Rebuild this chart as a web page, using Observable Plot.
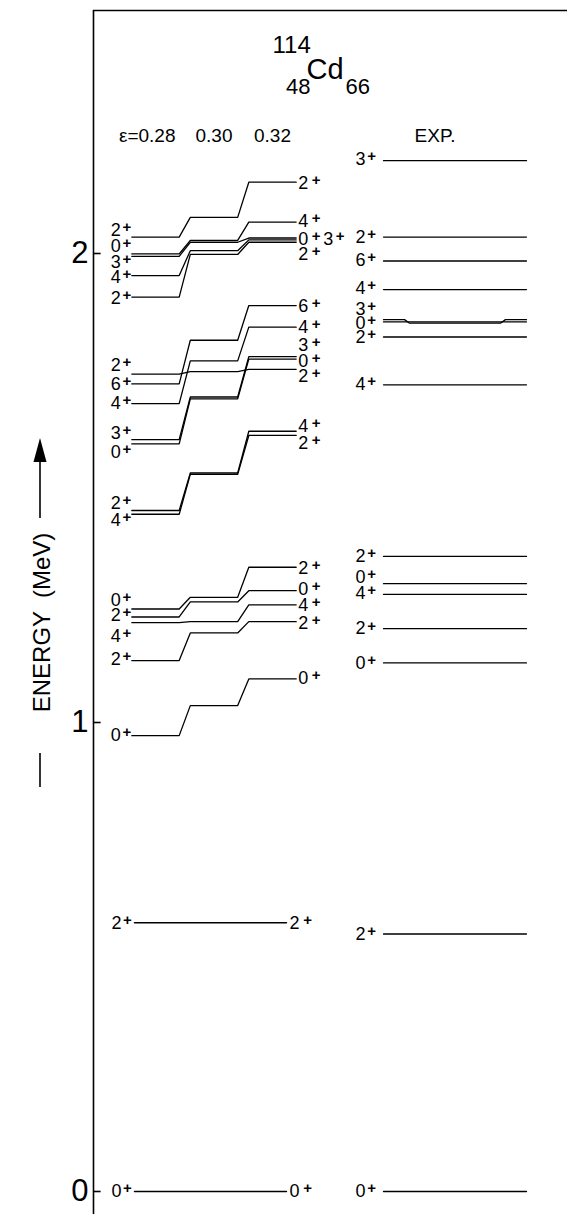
<!DOCTYPE html>
<html><head><meta charset="utf-8">
<script src="https://cdn.jsdelivr.net/npm/d3@7"></script>
<script src="https://cdn.jsdelivr.net/npm/@observablehq/plot@0.6"></script>
<style>
html,body{margin:0;padding:0;background:#fff;}
svg{display:block;}
</style></head><body><div id="chart"></div>
<script>
// ---------------- data ----------------
const epsilons = [0.28, 0.30, 0.32];
const thLeftSpin  = ["2","0","3","4","2", "2","6","4","3","0", "2","4", "0","2","4","2", "0"];
const thRightSpin = ["2","4","0","3","2", "2","6","4","3","0", "4","2", "2","0","4","2", "0"];
const thE028 = [2.035,1.999,1.994,1.953,1.907, 1.743,1.722,1.680,1.603,1.594, 1.452,1.444, 1.242,1.225,1.213,1.132, 0.972];
const thE030 = [2.077,2.028,2.024,2.006,1.998, 1.748,1.815,1.771,1.694,1.690, 1.532,1.529, 1.267,1.257,1.215,1.191, 1.036];
const thE032 = [2.152,2.067,2.033,2.029,2.024, 1.753,1.889,1.843,1.780,1.775, 1.621,1.612, 1.331,1.281,1.251,1.215, 1.093];
const thLeftLabelE  = [2.049,2.015,1.982,1.950,1.904, 1.761,1.722,1.680,1.616,1.576, 1.468,1.431, 1.260,1.228,1.184,1.134, 0.972];
const thRightLabelE = [2.150,2.069,2.030,2.030,1.998, 1.738,1.888,1.842,1.805,1.770, 1.632,1.596, 1.328,1.284,1.251,1.2125, 1.095];
const thRightSlot   = [0,0,0,1,0, 0,0,0,0,0, 0,0, 0,0,0,0, 0];

const flatSpin = ["2","0"];
const flatE = [0.573, 0];

const expSpin   = ["3","2","6","4","3","0","2","4","2","0","4","2","0","2","0"];
const expE      = [2.198,2.035,1.984,1.923,1.859,1.854,1.822,1.720,1.354,1.296,1.273,1.200,1.127,0.549,0];
const expMidE   = [2.198,2.035,1.984,1.923,1.8514,1.854,1.822,1.720,1.354,1.296,1.273,1.200,1.127,0.549,0];
const expLabelE = [2.202,2.035,1.985,1.925,1.882,1.851,1.822,1.721,1.354,1.309,1.275,1.200,1.127,0.549,0];

const yTicks = [0, 1, 2];

// ---------------- layout (in scale units) ----------------
const hw = 0.0081;                 // half width of a theory level
const expCenter = 0.38239, expHw = 0.02444;
const bend1 = 0.0072, bend2 = 0.0089;
const flatL = epsilons[0] - 0.0072, flatR = epsilons[2] + 0.0048;
const axisX = 0.2588, tickLen = 0.0026, topE = 2.5181;

// theory polylines
const thRows = [];
thE028.forEach((e1, i) => {
  const es = [e1, thE030[i], thE032[i]];
  epsilons.forEach((c, k) => {
    thRows.push({id: i, x: c - hw, y: es[k]});
    thRows.push({id: i, x: c + hw, y: es[k]});
  });
});
flatE.forEach((e, i) => {
  thRows.push({id: "f" + i, x: flatL, y: e});
  thRows.push({id: "f" + i, x: flatR, y: e});
});
// experimental polylines
const expRows = [];
expE.forEach((e, i) => {
  const L = expCenter - expHw, R = expCenter + expHw, m = expMidE[i];
  [[L, e], [L + bend1, e], [L + bend2, m], [R - bend2, m], [R - bend1, e], [R, e]]
    .forEach(([x, y]) => expRows.push({id: i, x, y}));
});

const idx = d3.range(thLeftSpin.length);
const rIdx0 = idx.filter(i => thRightSlot[i] === 0);
const rIdx1 = idx.filter(i => thRightSlot[i] === 1);
const eidx = d3.range(expSpin.length);
const fidx = d3.range(flatSpin.length);
const font = "'Liberation Sans', Arial, Helvetica, sans-serif";
const dFS = 18, pFS = 15, pDy = -3;

function spinLabels(ids, xf, yf, tf, dDigit, dPlus, anchor) {
  return [
    Plot.text(ids, {x: xf, y: yf, text: tf, textAnchor: anchor, dx: dDigit, fontSize: dFS, fill: "black"}),
    Plot.text(ids, {x: xf, y: yf, text: () => "+", textAnchor: "middle", dx: dPlus, dy: pDy, fontSize: pFS, fontWeight: "bold", fill: "black"})
  ];
}

const plot = Plot.plot({
  width: 567, height: 1214,
  marginLeft: 0, marginRight: 0, marginTop: 0, marginBottom: 0,
  x: {domain: [0.28, 0.32], range: [155, 272], axis: null},
  y: {domain: [0, 2], range: [1191, 253], axis: null},
  style: {fontFamily: font, background: "white", color: "black"},
  marks: [
    // frame
    Plot.ruleX([axisX], {insetTop: 10, stroke: "black", strokeWidth: 1.6}),
    Plot.ruleY([topE], {x1: axisX, x2: 0.45, stroke: "black", strokeWidth: 1.6}),
    Plot.ruleY(yTicks, {y: d => d, x1: axisX, x2: axisX + tickLen, stroke: "black", strokeWidth: 1.6}),
    Plot.text(yTicks, {y: d => d, x: axisX, text: d => String(d), textAnchor: "end", dx: -5, fontSize: 31, fill: "black"}),
    // axis title
    Plot.text(["ENERGY  (MeV)"], {frameAnchor: "top-left", dx: 32, dy: 622, rotate: -90, text: d => d, fontSize: 24, textAnchor: "middle", fill: "black", letterSpacing: "1.2px"}),
    // nucleus title
    Plot.text(["114"], {frameAnchor: "top-left", dx: 272, dy: 52, text: d => d, fontSize: 24, textAnchor: "start", lineAnchor: "bottom", fill: "black"}),
    Plot.text(["Cd"], {frameAnchor: "top-left", dx: 306, dy: 78, text: d => d, fontSize: 29, textAnchor: "start", lineAnchor: "bottom", fill: "black"}),
    Plot.text(["48"], {frameAnchor: "top-left", dx: 310, dy: 93, text: d => d, fontSize: 22, textAnchor: "end", lineAnchor: "bottom", fill: "black"}),
    Plot.text(["66"], {frameAnchor: "top-left", dx: 345, dy: 93, text: d => d, fontSize: 22, textAnchor: "start", lineAnchor: "bottom", fill: "black"}),
    // column headers
    Plot.text([0], {x: i => epsilons[i], frameAnchor: "top", dy: 141, text: i => "ε=" + epsilons[i].toFixed(2), textAnchor: "end", dx: 20, lineAnchor: "bottom", fontSize: 19, fill: "black"}),
    Plot.text([1, 2], {x: i => epsilons[i], frameAnchor: "top", dy: 141, text: i => epsilons[i].toFixed(2), textAnchor: "middle", lineAnchor: "bottom", fontSize: 19, fill: "black"}),
    Plot.text(["EXP."], {x: () => expCenter, frameAnchor: "top", dy: 141, text: d => d, textAnchor: "middle", dx: -20, lineAnchor: "bottom", fontSize: 19, fill: "black"}),
    // levels
    Plot.line(thRows, {x: "x", y: "y", z: "id", stroke: "black", strokeWidth: 1.3, curve: "linear"}),
    Plot.line(expRows, {x: "x", y: "y", z: "id", stroke: "black", strokeWidth: 1.3, curve: "linear"}),
    // theory labels, left
    ...spinLabels(idx, () => epsilons[0] - hw, i => thLeftLabelE[i], i => thLeftSpin[i], -11, -5, "end"),
    // theory labels, right
    ...spinLabels(rIdx0, () => epsilons[2] + hw, i => thRightLabelE[i], i => thRightSpin[i], 2, 20, "start"),
    ...spinLabels(rIdx1, () => epsilons[2] + hw, i => thRightLabelE[i], i => thRightSpin[i], 27, 44, "start"),
    // flat lines labels
    ...spinLabels(fidx, () => flatL, i => flatE[i], i => flatSpin[i], -13, -7, "end"),
    ...spinLabels(fidx, () => flatR, i => flatE[i], i => flatSpin[i], 3, 21, "start"),
    // experimental labels
    ...spinLabels(eidx, () => expCenter - expHw, i => expLabelE[i], i => expSpin[i], -18, -12, "end")
  ]
});
document.getElementById("chart").appendChild(plot);

// decorative dashes / arrow around the rotated axis title
const svg = d3.select(plot);
const deco = svg.append("g").attr("stroke", "black").attr("stroke-width", 1.6).attr("fill", "none");
deco.append("line").attr("x1", 40).attr("x2", 40).attr("y1", 753).attr("y2", 787);
deco.append("line").attr("x1", 40).attr("x2", 40).attr("y1", 518).attr("y2", 458);
svg.append("path").attr("d", "M40,438 L33.5,462 L46.5,462 Z").attr("fill", "black");
</script></body></html>
